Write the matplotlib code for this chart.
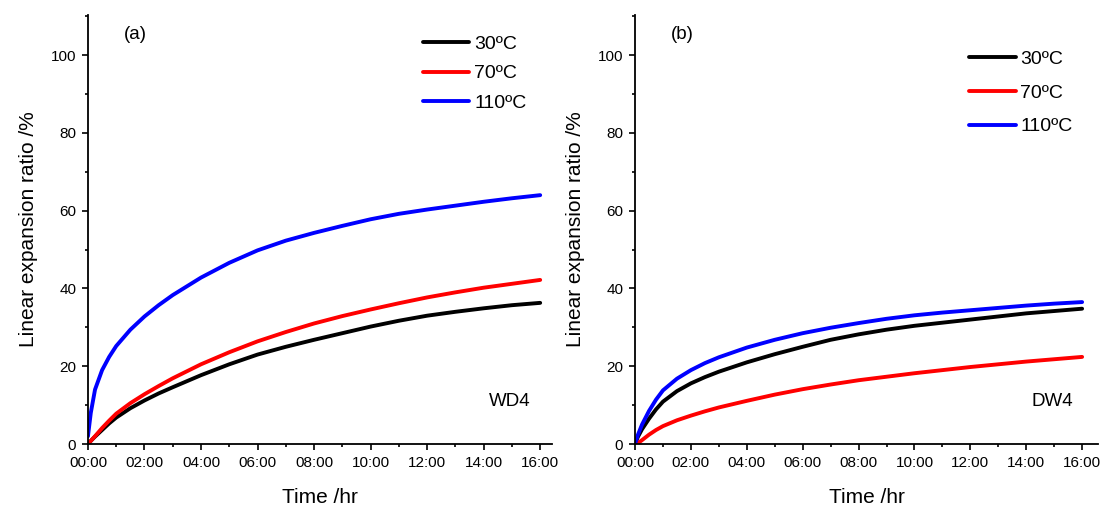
import matplotlib
matplotlib.use("Agg")
import matplotlib.pyplot as plt
from matplotlib.ticker import MultipleLocator, FuncFormatter

plt.rcParams['font.family'] = ['Liberation Sans', 'DejaVu Sans']

# Zeitachse in Stunden
hours = [0, 0.1, 0.25, 0.5, 0.75, 1, 1.5, 2, 2.5, 3,
         4, 5, 6, 7, 8, 9, 10, 11, 12, 13, 14, 15, 16]

# Probe WD4
wd4_30 = [0, 0.8, 1.9, 3.6, 5.3, 6.8, 9.2, 11.2, 13.0, 14.6,
          17.7, 20.5, 23.0, 25.0, 26.8, 28.5, 30.2, 31.7, 33.0, 34.0, 34.9, 35.7, 36.3]
wd4_70 = [0, 0.8, 2.0, 4.1, 6.0, 7.8, 10.5, 12.8, 14.9, 16.9,
          20.5, 23.6, 26.4, 28.8, 31.0, 32.9, 34.6, 36.2, 37.7, 39.0, 40.2, 41.2, 42.2]
wd4_110 = [2.0, 8.0, 14.0, 19.0, 22.4, 25.2, 29.4, 32.8, 35.7, 38.3,
           42.8, 46.6, 49.8, 52.3, 54.3, 56.1, 57.8, 59.2, 60.3, 61.3, 62.3, 63.2, 64.0]

# Probe DW4
dw4_30 = [0, 1.8, 3.8, 6.5, 8.9, 10.9, 13.6, 15.6, 17.2, 18.6,
          21.0, 23.1, 25.0, 26.8, 28.2, 29.4, 30.4, 31.2, 32.0, 32.8, 33.6, 34.2, 34.8]
dw4_70 = [0, 0.2, 1.0, 2.4, 3.6, 4.6, 6.1, 7.3, 8.4, 9.4,
          11.1, 12.7, 14.1, 15.3, 16.4, 17.3, 18.2, 19.0, 19.8, 20.5, 21.2, 21.8, 22.4]
dw4_110 = [0, 2.3, 5.0, 8.5, 11.4, 13.8, 16.8, 19.0, 20.8, 22.3,
           24.8, 26.8, 28.5, 29.9, 31.1, 32.2, 33.1, 33.8, 34.4, 35.0, 35.6, 36.1, 36.5]

labels = ['30ºC', '70ºC', '110ºC']
colors = ['black', 'red', 'blue']

fig = plt.figure(figsize=(11.05, 5.13), dpi=100)
ax1 = fig.add_axes([0.0796, 0.1345, 0.420, 0.836])
ax2 = fig.add_axes([0.5747, 0.1345, 0.419, 0.836])


def hhmm(x, pos):
    return f"{int(round(x)):02d}:00"


def setup(ax, series, panel, sample, sample_x, xmax, leg_anchor, leg_spacing):
    for y, c, lab in zip(series, colors, labels):
        ax.plot(hours, y, color=c, lw=2.8, label=lab, solid_capstyle='round')
    ax.set_xlim(0, xmax)
    ax.set_ylim(0, 110.3)
    ax.xaxis.set_major_locator(MultipleLocator(2))
    ax.xaxis.set_minor_locator(MultipleLocator(1))
    ax.xaxis.set_major_formatter(FuncFormatter(hhmm))
    ax.yaxis.set_major_locator(MultipleLocator(20))
    ax.yaxis.set_minor_locator(MultipleLocator(10))
    for s in ['top', 'right']:
        ax.spines[s].set_visible(False)
    for s in ['left', 'bottom']:
        ax.spines[s].set_linewidth(1.3)
    ax.tick_params(which='major', direction='out', length=4.5, width=1.2, labelsize=11, pad=4)
    ax.tick_params(which='minor', direction='out', length=2.5, width=1.2)
    ax.set_xlabel('Time /hr', fontsize=15, labelpad=13)
    ax.set_ylabel('Linear expansion ratio /%', fontsize=15, labelpad=9)
    ax.text(0.078, 0.975, panel, transform=ax.transAxes, fontsize=13.5, va='top')
    ax.text(sample_x, 0.098, sample, transform=ax.transAxes, fontsize=13.5, va='center')
    ax.legend(loc='upper left', bbox_to_anchor=leg_anchor, frameon=False, fontsize=14,
              handlelength=2.4, handletextpad=0.25, labelspacing=leg_spacing, borderpad=0)


setup(ax1, [wd4_30, wd4_70, wd4_110], '(a)', 'WD4', 0.864, 16.42, (0.70, 0.975), 0.6)
setup(ax2, [dw4_30, dw4_70, dw4_110], '(b)', 'DW4', 0.856, 16.57, (0.70, 0.94), 0.82)

fig.savefig('out.png', dpi=100)
